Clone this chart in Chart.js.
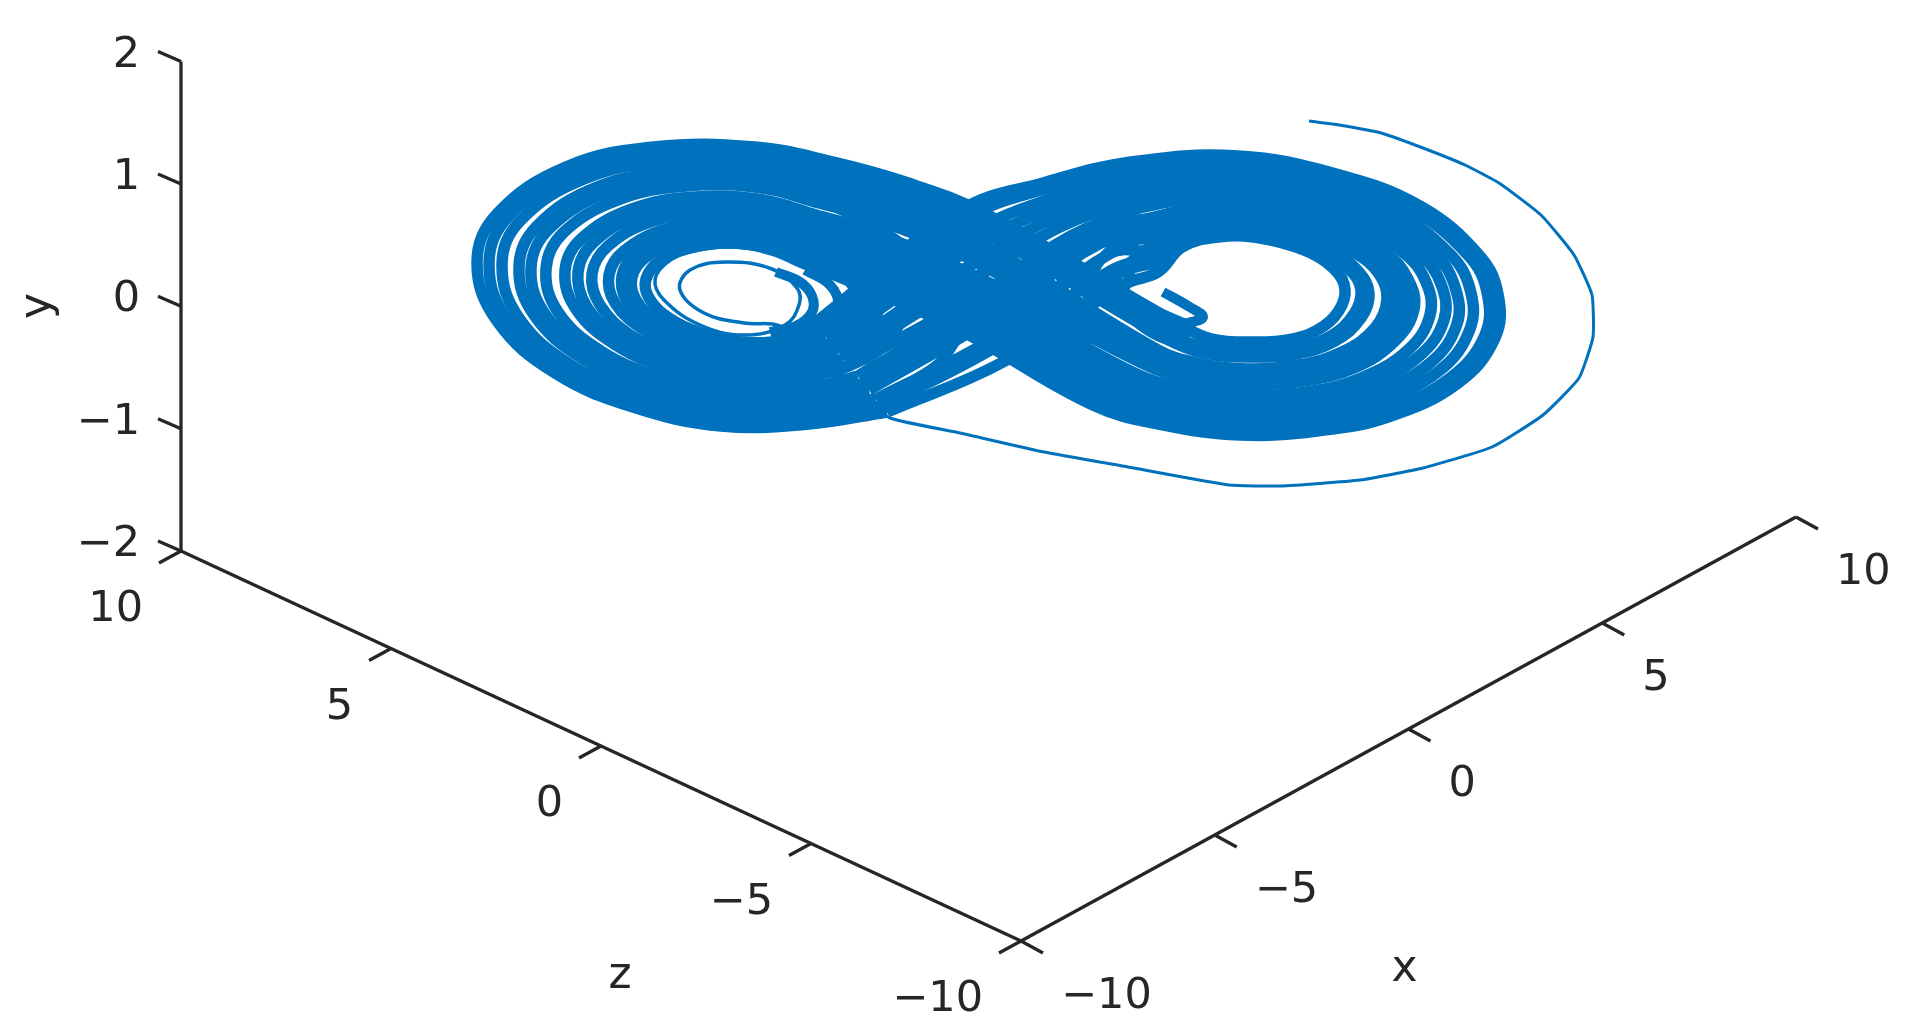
<!DOCTYPE html>
<html>
<head>
<meta charset="utf-8">
<title>Lorenz attractor</title>
<script src="https://cdn.jsdelivr.net/npm/chart.js@4"></script>
<style>
  html, body { margin: 0; padding: 0; background: #fff; }
  #plot { display: block; }
</style>
</head>
<body>
<canvas id="plot" width="1910" height="1034"></canvas>
<script>
// axis ticks, real units
const xTicks = [-10, -5, 0, 5, 10];
const yTicks = [-2, -1, 0, 1, 2];
const zTicks = [-10, -5, 0, 5, 10];
const xTickLabels = ['\u221210', '\u22125', '0', '5', '10'];
const yTickLabels = ['\u22122', '\u22121', '0', '1', '2'];
const zTickLabels = ['\u221210', '\u22125', '0', '5', '10'];

// the trajectory as [horizontal, vertical] in the projected view.
// each band is one bundle of neighbouring windings
const band01 = [[887,412],[809,424],[721,426],[633,407],[555,373],[497,321],[477,263],[497,214],[566,167],[654,147],[755,147],[829,161],[902,181],[984,213],[1184,327],[1212,339],[1249,342],[1292,339],[1324,326],[1342,305],[1344,284],[1331,266],[1304,250],[1260,238],[1218,237],[1182,247],[1158,272],[1125,284],[1003,362]];
const band02 = [[882,406],[807,418],[722,421],[637,402],[563,369],[507,319],[489,264],[508,217],[574,173],[659,154],[756,154],[827,169],[897,187],[982,221],[1174,336],[1207,348],[1248,352],[1294,349],[1331,336],[1354,314],[1361,290],[1349,269],[1323,251],[1278,234],[1231,230],[1188,237],[1155,256],[1112,270],[999,345]];
const band03 = [[876,399],[806,412],[724,414],[642,396],[571,365],[519,318],[502,265],[520,221],[584,179],[665,161],[757,161],[825,176],[891,194],[980,230],[1169,340],[1204,353],[1248,357],[1296,354],[1335,341],[1361,318],[1369,293],[1358,271],[1333,251],[1287,233],[1237,227],[1191,232],[1154,250],[1111,253],[996,337]];
const band04 = [[869,390],[804,404],[726,406],[649,389],[583,359],[534,315],[519,267],[537,226],[597,187],[673,171],[759,172],[823,186],[884,203],[977,241],[1158,350],[1198,363],[1247,369],[1299,365],[1342,352],[1375,328],[1387,299],[1379,274],[1354,252],[1306,229],[1252,219],[1198,221],[1150,238],[1101,243],[991,319]];
const band05 = [[864,384],[802,397],[727,400],[654,383],[591,355],[545,314],[531,268],[549,229],[606,193],[679,178],[760,179],[821,194],[879,210],[975,250],[1153,354],[1195,368],[1246,374],[1300,370],[1346,357],[1381,332],[1395,302],[1388,275],[1363,252],[1315,227],[1258,215],[1201,216],[1149,232],[1097,238],[989,310]];
const band06 = [[858,376],[800,390],[729,392],[660,377],[601,351],[558,312],[546,269],[563,233],[618,200],[686,186],[762,188],[819,203],[873,218],[972,260],[1147,359],[1192,374],[1246,380],[1302,376],[1350,363],[1389,337],[1405,306],[1399,277],[1375,252],[1325,225],[1266,211],[1205,210],[1147,225],[1091,232],[986,300]];
const band07 = [[849,366],[797,380],[731,383],[667,368],[614,344],[576,309],[565,271],[581,239],[632,209],[695,197],[763,200],[816,215],[864,229],[969,273],[1142,363],[1190,379],[1245,385],[1303,381],[1354,368],[1395,341],[1414,309],[1408,279],[1385,252],[1334,223],[1272,208],[1208,205],[1146,219],[1087,228],[984,292]];
const band08 = [[844,359],[796,374],[733,376],[672,363],[622,340],[587,307],[578,272],[594,242],[642,214],[701,204],[765,208],[815,222],[859,236],[967,281],[1132,372],[1184,388],[1244,395],[1306,392],[1361,378],[1408,350],[1430,315],[1426,282],[1404,253],[1351,220],[1285,201],[1214,195],[1143,207],[1078,219],[979,275]];
const band09 = [[838,352],[794,367],[735,369],[678,356],[632,336],[600,305],[592,274],[608,246],[653,221],[708,213],[766,217],[813,231],[853,244],[965,292],[1124,379],[1180,396],[1243,403],[1308,400],[1366,386],[1418,357],[1444,320],[1441,284],[1419,253],[1365,217],[1296,195],[1219,187],[1140,198],[1071,211],[976,262]];
const band10 = [[831,343],[792,358],[737,361],[684,349],[644,330],[615,303],[609,275],[624,251],[666,229],[716,222],[768,227],[810,241],[846,253],[962,303],[1116,386],[1176,403],[1243,411],[1311,408],[1372,394],[1429,364],[1457,324],[1455,287],[1435,254],[1379,214],[1306,190],[1224,179],[1138,188],[1063,204],[972,248]];
const band11 = [[825,336],[790,352],[738,354],[689,343],[652,326],[627,301],[622,276],[636,254],[675,235],[722,229],[769,235],[808,249],[840,260],[960,312],[1108,393],[1172,411],[1242,420],[1313,416],[1377,402],[1439,371],[1470,329],[1470,289],[1450,254],[1393,211],[1317,184],[1229,171],[1135,179],[1056,197],[968,235]];
const band12 = [[821,331],[788,346],[739,349],[693,338],[659,323],[636,300],[632,277],[646,257],[683,240],[727,235],[770,241],[807,256],[836,266],[958,319],[1099,400],[1167,419],[1241,429],[1315,425],[1384,411],[1450,378],[1485,335],[1487,292],[1468,255],[1409,208],[1328,178],[1234,162],[1133,169],[1048,188],[964,220]];
const band13 = [[815,323],[787,339],[741,342],[698,332],[669,318],[649,298],[646,279],[660,261],[694,247],[734,243],[772,250],[805,264],[830,273],[956,328],[1093,405],[1164,425],[1240,435],[1317,431],[1388,417],[1458,383],[1495,338],[1498,294],[1479,255],[1420,206],[1336,174],[1238,156],[1131,162],[1043,183],[961,210]];

// first part of the run: the long swing outside
const startRun = [[1309,121],[1339,125],[1381,133],[1423,148],[1465,165],[1499,183],[1541,215],[1574,255],[1592,295],[1593,337],[1579,378],[1543,415],[1492,447],[1423,468],[1360,480],[1280,486],[1229,485],[1128,467],[1044,452],[960,433],[890,418],[850,390]];
// then the open windings round the left hole
const innerRun = [[850,390],[812,348],[780,326],[744,323],[704,313],[680,290],[690,270],[726,262],[772,269],[797,288],[799,305],[785,325],[744,335],[700,325],[664,300],[655,280],[668,262],[690,252],[726,247],[770,252],[800,263]];
// the two pointed turns beside the holes
const leftCusp = [[776,272],[800,282],[812,296],[812,312],[796,326],[770,332]];
const rightCusp = [[1163,292],[1188,306],[1203,317],[1188,323],[1170,327]];

// windings that turn back before the middle instead of crossing over
const leftTurn1 = [[835,190],[905,225],[965,285],[950,350],[890,395]];
const leftTurn2 = [[830,205],[890,235],[935,285],[915,345],[860,385],[800,400]];
const leftTurn3 = [[820,222],[870,250],[905,295],[885,345],[830,375]];
const leftTurn4 = [[800,240],[850,262],[880,300],[860,335],[810,355]];
const leftTurn5 = [[815,258],[850,283],[858,310],[835,333]];
const leftTurn6 = [[805,270],[830,285],[838,305],[825,325],[800,335]];
const rightTurn1 = [[1235,190],[1150,205],[1085,240],[1060,295],[1085,345],[1160,390]];
const rightTurn2 = [[1220,205],[1160,220],[1105,255],[1090,295],[1110,335],[1170,370]];
const rightTurn3 = [[1230,225],[1180,232],[1130,262],[1115,290],[1140,325],[1190,350]];
const rightTurn4 = [[1130,272],[1125,300],[1150,318],[1190,335]];
const rightTurn5 = [[1165,262],[1135,268],[1105,280],[1085,300]];
const rightTurn6 = [[1130,300],[1165,315],[1195,328]];

const bands = [band01, band02, band03, band04, band05, band06, band07, band08, band09, band10, band11, band12, band13];
const turns = [leftTurn1, leftTurn2, leftTurn3, leftTurn4, leftTurn5, leftTurn6, rightTurn1, rightTurn2, rightTurn3, rightTurn4, rightTurn5, rightTurn6];

// projection of the box edges into the view
function project(x, y, z) {
    return {
        x: 1021 + (x + 10) * 38.75 - (z + 10) * 42,
        y: 941 - (x + 10) * 21.2 - (z + 10) * 19.5 - (y + 2) * 122.35
    };
}

function toPoints(list) {
    return list.map(p => ({ x: p[0], y: p[1] }));
}

function closed(list) {
    return toPoints(list.concat(list.slice(0, 1)));
}

const lineColor = '#0072BD';
const axisColor = '#262626';

function curve(data, width, tension) {
    return {
        data: data,
        borderColor: lineColor,
        borderWidth: width,
        tension: tension,
        pointRadius: 0,
        fill: false,
        showLine: true,
        borderJoinStyle: 'round',
        borderCapStyle: 'butt'
    };
}

function axisLine(data) {
    return {
        data: data,
        borderColor: axisColor,
        borderWidth: 3.3,
        tension: 0,
        pointRadius: 0,
        fill: false,
        showLine: true,
        spanGaps: false
    };
}

function tickSegments(values, toView, dx, dy) {
    const out = [];
    values.forEach(v => {
        const p = toView(v);
        out.push(p, { x: p.x + dx, y: p.y + dy }, { x: NaN, y: NaN });
    });
    return out;
}

const xView = v => project(v, -2, -10);
const yView = v => project(-10, v, 10);
const zView = v => project(-10, -2, v);

const textPlugin = {
    id: 'axisText',
    afterDatasetsDraw(chart) {
        const c = chart.ctx;
        const sx = chart.scales.x;
        const sy = chart.scales.y;
        const put = (text, p, dx, dy, align) => {
            c.textAlign = align;
            c.fillText(text, sx.getPixelForValue(p.x) + dx, sy.getPixelForValue(p.y) + dy);
        };
        c.save();
        c.fillStyle = axisColor;
        c.textBaseline = 'middle';
        c.font = '43px "DejaVu Sans"';
        yTicks.forEach((v, i) => put(yTickLabels[i], yView(v), -41, -6, 'right'));
        zTicks.forEach((v, i) => put(zTickLabels[i], zView(v), -38, 59, 'right'));
        xTicks.forEach((v, i) => put(xTickLabels[i], xView(v), 40, 56, 'left'));
        c.font = '44px "DejaVu Sans"';
        put('x', project(0, -2, -10), -4, 241, 'center');
        put('z', project(-10, -2, 0), 19, 231, 'center');
        c.translate(sx.getPixelForValue(39), sy.getPixelForValue(306));
        c.rotate(-Math.PI / 2);
        c.textAlign = 'center';
        c.fillText('y', 0, 0);
        c.restore();
    }
};

const datasets = [
    axisLine([yView(-2), yView(2)]),
    axisLine([zView(10), zView(-10)]),
    axisLine([xView(-10), xView(10)]),
    axisLine(tickSegments(yTicks, yView, -23, -10)),
    axisLine(tickSegments(zTicks, zView, -22, 12)),
    axisLine(tickSegments(xTicks, xView, 22, 12)),
    curve(toPoints(startRun), 3, 0.15),
    curve(toPoints(innerRun), 3.5, 0.4),
    curve(toPoints(leftCusp), 10, 0.4),
    curve(toPoints(rightCusp), 10, 0.4)
];
bands.forEach(b => datasets.push(curve(closed(b), 11.5, 0.4)));
turns.forEach(t => datasets.push(curve(toPoints(t), 10, 0.4)));

new Chart(document.getElementById('plot').getContext('2d'), {
    type: 'scatter',
    data: { datasets: datasets },
    plugins: [textPlugin],
    options: {
        responsive: false,
        animation: false,
        layout: { padding: 0 },
        plugins: { legend: { display: false }, tooltip: { enabled: false } },
        scales: {
            x: { type: 'linear', display: false, min: 0, max: 1910 },
            y: { type: 'linear', display: false, min: 0, max: 1034, reverse: true }
        }
    }
});
</script>
</body>
</html>
